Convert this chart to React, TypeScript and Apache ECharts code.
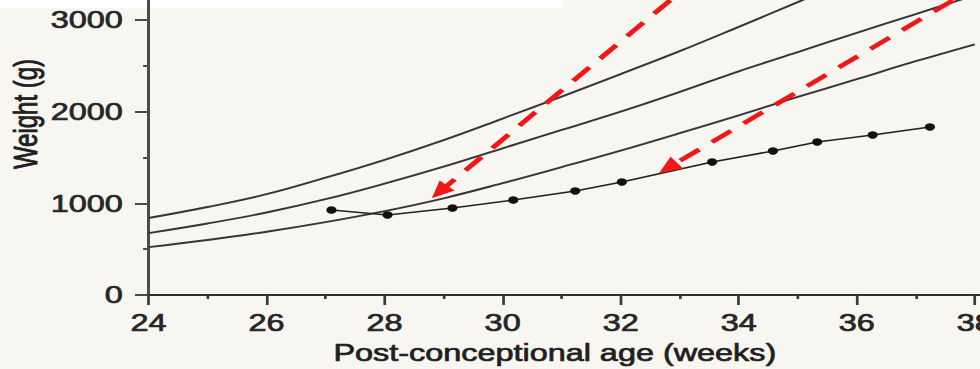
import React, { useEffect, useRef } from "react";
import * as echarts from "echarts";

// Growth-chart reference curves (weight in grams per post-conceptional week)
const weeks = [24, 25, 26, 27, 28, 29, 30, 31, 32, 33, 34, 35, 36, 37, 38];
const upperCurve = [840, 960, 1100, 1280, 1475, 1690, 1925, 2165, 2410, 2660, 2925, 3195, 3470, 3740, 4010];
const middleCurve = [675, 780, 900, 1045, 1215, 1400, 1600, 1800, 2000, 2215, 2440, 2650, 2860, 3065, 3270];
const lowerCurve = [522, 600, 690, 795, 915, 1055, 1220, 1395, 1575, 1765, 1960, 2160, 2355, 2550, 2735];

// Infant's measured weights
const infantAge = [27.1, 28.05, 29.15, 30.18, 31.23, 32.02, 33.55, 34.58, 35.33, 36.27, 37.24];
const infantWeight = [927, 873, 949, 1036, 1135, 1233, 1451, 1571, 1669, 1746, 1833];

// Axis ticks
const xMajorTicks = [24, 26, 28, 30, 32, 34, 36, 38];
const xMinorTicks = [25, 27, 29, 31, 33, 35, 37];
const yMajorTicks = [0, 1000, 2000, 3000];
const yMinorTicks = [500, 1500, 2500];

// Red dashed annotation arrows: [tail, head] in (week, grams)
const arrowA = [[32.84, 3215], [28.93, 1124]];
const arrowB = [[37.63, 3215], [32.8, 1386]];

const X_MIN = 24;
const X_MAX = 38.09;
const Y_MIN = 0;
const Y_MAX = 3218;

const OUT_W = 980;
const H = 369;
const SX = 1.35;
const INNER_W = Math.round(OUT_W / SX);

const FONT = '"Liberation Sans", Arial, sans-serif';
const TEXT = "#262626";

const pairs = (xs: number[], ys: number[]) => xs.map((x, i) => [x, ys[i]]);

export default function App() {
  const ref = useRef<HTMLDivElement>(null);

  useEffect(() => {
    if (!ref.current) return;
    const chart = echarts.init(ref.current, undefined, { renderer: "svg" });

    const refLine = (name: string, values: number[]) => ({
      name,
      type: "line",
      data: pairs(weeks, values),
      smooth: 0.4,
      showSymbol: false,
      symbol: "none",
      clip: true,
      lineStyle: { color: "#363636", width: 1.9 },
      silent: true,
      z: 2,
    });

    const labelStyle = {
      fontSize: 24,
      fontFamily: FONT,
      color: TEXT,
      textBorderColor: TEXT,
      textBorderWidth: 0.7,
    };

    const option = {
      animation: false,
      backgroundColor: "transparent",
      textStyle: { fontFamily: FONT },
      grid: {
        left: 110,
        right: 0,
        top: 0,
        bottom: 74,
        containLabel: false,
        outerBoundsMode: "none",
      },
      xAxis: [
        {
          type: "value",
          min: X_MIN,
          max: X_MAX,
          position: "bottom",
          axisLine: { show: true, onZero: false, lineStyle: { color: "#2e2e2e", width: 2 } },
          axisTick: { show: true, customValues: xMajorTicks, length: 10, lineStyle: { color: "#3a3a3a", width: 2 } },
          axisLabel: {
            ...labelStyle,
            customValues: xMajorTicks,
            margin: 16,
            hideOverlap: false,
            formatter: (v: number) => String(v),
          },
          splitLine: { show: false },
          name: "Post-conceptional age (weeks)",
          nameLocation: "middle",
          nameGap: 46,
          nameTextStyle: { ...labelStyle, color: "#1f1f1f", textBorderColor: "#1f1f1f", padding: [0, 14, 0, 0] },
        },
        {
          type: "value",
          min: X_MIN,
          max: X_MAX,
          position: "bottom",
          axisLine: { show: false, onZero: false },
          axisTick: { show: true, customValues: xMinorTicks, length: 4, lineStyle: { color: "#3a3a3a", width: 2 } },
          axisLabel: { show: false },
          splitLine: { show: false },
        },
      ],
      yAxis: [
        {
          type: "value",
          min: Y_MIN,
          max: Y_MAX,
          position: "left",
          axisLine: { show: true, onZero: false, lineStyle: { color: "#4a4a4a", width: 2.2 } },
          axisTick: { show: true, customValues: yMajorTicks, length: 10, lineStyle: { color: "#4a4a4a", width: 2 } },
          axisLabel: {
            ...labelStyle,
            customValues: yMajorTicks,
            margin: 19,
            formatter: (v: number) => String(v),
          },
          splitLine: { show: false },
        },
        {
          type: "value",
          min: Y_MIN,
          max: Y_MAX,
          position: "left",
          axisLine: { show: false, onZero: false },
          axisTick: { show: true, customValues: yMinorTicks, length: 4, lineStyle: { color: "#4a4a4a", width: 2 } },
          axisLabel: { show: false },
          splitLine: { show: false },
        },
      ],
      graphic: [
        {
          type: "rect",
          shape: { x: 0, y: 0, width: 417, height: 8 },
          style: { fill: "#ffffff" },
          silent: true,
          z: 0,
        },
        {
          type: "text",
          x: 19,
          y: 114,
          rotation: Math.PI / 2,
          silent: true,
          style: {
            text: "Weight (g)",
            align: "center",
            verticalAlign: "middle",
            fontSize: 24,
            fontFamily: FONT,
            fill: "#1f1f1f",
            stroke: "#1f1f1f",
            lineWidth: 0.7,
          },
        },
      ],
      series: [
        refLine("Upper", upperCurve),
        refLine("Middle", middleCurve),
        refLine("Lower", lowerCurve),
        {
          name: "Infant",
          type: "line",
          data: pairs(infantAge, infantWeight),
          smooth: false,
          symbol: "circle",
          symbolSize: 7.5,
          itemStyle: { color: "#111111" },
          lineStyle: { color: "#222222", width: 1.6 },
          silent: true,
          z: 3,
          markLine: {
            silent: true,
            symbol: ["none", "triangle"],
            symbolSize: [15, 17],
            label: { show: false },
            emphasis: { disabled: true },
            lineStyle: { color: "#f21616", width: 4.2, type: [18, 12], opacity: 1 },
            data: [
              [{ coord: arrowA[0] }, { coord: arrowA[1] }],
              [{ coord: arrowB[0] }, { coord: arrowB[1] }],
            ],
            z: 5,
          },
        },
      ],
    };

    chart.setOption(option as any);
    return () => chart.dispose();
  }, []);

  return (
    <div
      style={{
        position: "fixed",
        left: 0,
        top: 0,
        width: OUT_W,
        height: H,
        overflow: "hidden",
        background: "#f8f6f1",
      }}
    >
      <div
        ref={ref}
        style={{
          width: INNER_W,
          height: H,
          transform: `scaleX(${SX})`,
          transformOrigin: "0 0",
        }}
      />
    </div>
  );
}
